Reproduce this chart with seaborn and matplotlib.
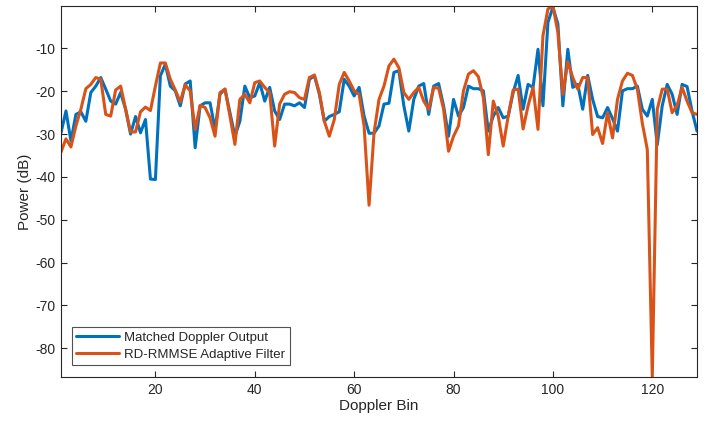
import numpy as np
import pandas as pd
import matplotlib
matplotlib.use("Agg")
import matplotlib.pyplot as plt
import seaborn as sns

bins = list(range(1, 130))

matched = [
    -29.7, -24.6, -31.6, -25.4, -24.8, -27.0, -20.3, -18.8, -16.8, -19.5,
    -22.3, -23.0, -20.3, -24.2, -30.0, -25.9, -29.7, -26.6, -40.5, -40.6,
    -16.4, -13.7, -18.8, -19.9, -23.4, -18.3, -17.6, -33.2, -23.4, -22.7,
    -22.7, -28.9, -20.7, -19.5, -25.0, -30.5, -27.0, -18.8, -21.5, -21.1,
    -18.0, -22.3, -19.1, -24.6, -26.6, -23.0, -23.0, -23.4, -22.7, -23.8,
    -17.2, -16.4, -20.7, -27.0, -25.9, -25.4, -24.8, -17.2, -18.8, -21.1,
    -19.1, -25.8, -29.8, -29.8, -28.1, -23.0, -22.8, -15.6, -15.2, -23.4,
    -29.3, -21.9, -18.8, -18.2, -25.4, -18.8, -18.2, -23.4, -30.5, -21.9,
    -25.8, -23.8, -18.8, -19.4, -19.4, -19.9, -29.3, -25.8, -23.8, -26.2,
    -25.8, -20.3, -16.3, -24.2, -18.4, -19.1, -10.2, -23.4, -3.9, -0.4,
    -4.3, -23.4, -10.2, -19.1, -18.4, -24.2, -16.3, -21.9, -25.9, -26.2,
    -23.8, -26.4, -29.3, -19.9, -19.4, -19.4, -18.8, -24.2, -25.8, -21.9,
    -32.5, -23.4, -18.4, -20.7, -25.4, -18.4, -18.9, -24.6, -29.3,
]

adaptive = [
    -34.2, -31.1, -33.0, -28.1, -24.2, -19.4, -18.4, -16.8, -17.2, -25.4,
    -25.8, -19.7, -18.8, -24.2, -29.5, -29.5, -24.8, -23.7, -24.5, -18.8,
    -13.4, -13.4, -17.2, -19.7, -22.5, -18.5, -19.9, -28.9, -23.3, -23.8,
    -26.2, -30.5, -20.3, -19.5, -25.8, -32.4, -21.9, -20.7, -22.7, -18.0,
    -17.6, -19.1, -20.3, -32.8, -23.0, -20.7, -20.1, -20.3, -21.5, -21.9,
    -16.8, -16.2, -20.3, -27.0, -30.5, -26.6, -18.4, -15.6, -17.6, -19.9,
    -20.7, -28.1, -46.6, -29.7, -21.9, -18.8, -14.1, -12.5, -14.5, -20.3,
    -21.9, -20.3, -19.1, -22.3, -24.2, -19.1, -19.3, -24.2, -34.0, -30.5,
    -28.1, -19.9, -16.0, -15.2, -16.6, -21.5, -34.8, -22.3, -25.8, -32.8,
    -25.8, -19.7, -19.5, -28.8, -23.4, -19.1, -28.9, -7.0, -0.8, -0.1,
    -6.2, -20.7, -13.1, -16.8, -19.5, -16.8, -16.8, -30.1, -28.5, -32.2,
    -25.0, -30.9, -21.9, -17.6, -15.8, -16.3, -19.5, -27.5, -33.6, -86.7,
    -24.2, -19.5, -19.5, -25.0, -23.3, -19.1, -22.3, -25.0, -25.4,
]

series_names = ["Matched Doppler Output", "RD-RMMSE Adaptive Filter"]
colors = ["#0072BD", "#D95319"]

df = pd.DataFrame({
    "bin": bins * 2,
    "power": matched + adaptive,
    "series": [series_names[0]] * len(bins) + [series_names[1]] * len(bins),
})

sns.set_theme(style="white")
plt.rcParams["font.family"] = ["Liberation Sans", "DejaVu Sans"]
plt.rcParams["axes.unicode_minus"] = False

fig = plt.figure(figsize=(7.13, 4.28), dpi=100)
ax = fig.add_axes([61 / 713, 1 - 377 / 428, 636 / 713, 371 / 428])

sns.lineplot(data=df, x="bin", y="power", hue="series", hue_order=series_names,
             palette=colors, linewidth=2.2, ax=ax, estimator=None, sort=True)

allv = matched + adaptive
ax.set_xlim(1, 129)
ax.set_ylim(min(allv), max(allv))
ax.set_xticks([20, 40, 60, 80, 100, 120])
ax.set_yticks([-80, -70, -60, -50, -40, -30, -20, -10])
ax.set_xlabel("Doppler Bin", fontsize=11, color="#262626", labelpad=2)
ax.set_ylabel("Power (dB)", fontsize=11, color="#262626", labelpad=2)

for s in ax.spines.values():
    s.set_visible(True)
    s.set_color("#262626")
    s.set_linewidth(0.8)
ax.tick_params(axis="both", which="both", direction="in", length=4, width=0.8,
               colors="#262626", labelsize=10, top=True, right=True,
               bottom=True, left=True, pad=4)

leg = ax.legend(loc="lower left", bbox_to_anchor=(0.017, 0.032), borderaxespad=0,
                fontsize=9.5, frameon=True, fancybox=False, handlelength=3.2,
                handletextpad=0.4, borderpad=0.35, labelspacing=0.35)
leg.get_frame().set_edgecolor("#262626")
leg.get_frame().set_linewidth(0.8)
for line in leg.get_lines():
    line.set_linewidth(2.2)

fig.savefig("out.png", dpi=100)
